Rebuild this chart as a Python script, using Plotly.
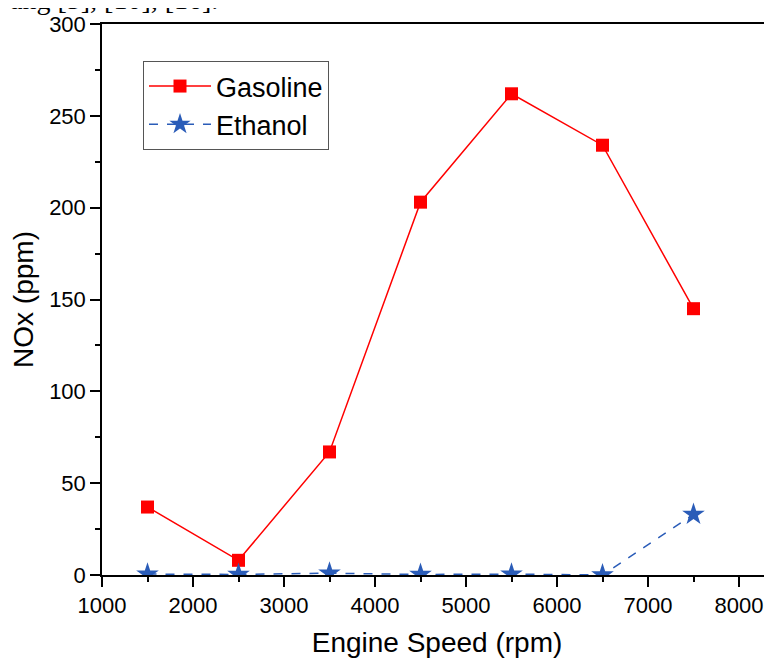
import plotly.graph_objects as go

speed = [1500, 2500, 3500, 4500, 5500, 6500, 7500]
gasoline = [37, 8, 67, 203, 262, 234, 145]
ethanol = [0.5, 0.3, 1, 0.3, 0.5, 0, 33]

x_ticks = [1000, 2000, 3000, 4000, 5000, 6000, 7000, 8000]
y_ticks = [0, 50, 100, 150, 200, 250, 300]

# page body has an 8px margin; size the figure so the plot area lands where the reference has it
W, H = 764, 651
L, R, T, B = 94, 0, 16, 84
PW, PH = W - L - R, H - T - B

fig = go.Figure()
fig.add_trace(go.Scatter(
    x=speed, y=gasoline, name="Gasoline", mode="lines+markers",
    line=dict(color="#FF0000", width=1.5),
    marker=dict(symbol="square", size=13, color="#FF0000"),
))
fig.add_trace(go.Scatter(
    x=speed, y=ethanol, name="Ethanol", mode="lines+markers",
    line=dict(color="#2A5CB8", width=1.5, dash="dash"),
    marker=dict(symbol="star", size=17, color="#2A5CB8"),
))

font_family = "Liberation Sans, Arial, sans-serif"
fig.update_layout(
    width=W, height=H,
    margin=dict(l=L, r=R, t=T, b=B),
    paper_bgcolor="white", plot_bgcolor="white",
    font=dict(family=font_family, color="black"),
    showlegend=True,
    legend=dict(
        x=(143 - 102) / PW, y=(575 - 61) / PH, xanchor="left", yanchor="top",
        bordercolor="#555555", borderwidth=1,
        font=dict(size=27, family=font_family, color="black"),
        bgcolor="white", tracegroupgap=0, itemwidth=62,
    ),
    xaxis=dict(
        range=[1000, 1000 + PW / 91.0 * 1000],
        tickvals=x_ticks, ticktext=[str(v) for v in x_ticks],
        ticks="outside", ticklen=10, tickwidth=1.5, tickcolor="black",
        minor=dict(dtick=500, tick0=1000, ticks="outside", ticklen=5, tickwidth=1.5, tickcolor="black"),
        showline=True, linecolor="black", linewidth=1.5, mirror=True,
        showgrid=False, zeroline=False,
        tickfont=dict(size=22, family=font_family, color="black"),
        title=dict(text="Engine Speed (rpm)", font=dict(size=28, family=font_family, color="black"), standoff=15),
    ),
    yaxis=dict(
        range=[0, 300],
        tickvals=y_ticks, ticktext=[str(v) for v in y_ticks],
        ticks="outside", ticklen=10, tickwidth=1.5, tickcolor="black",
        minor=dict(dtick=25, tick0=0, ticks="outside", ticklen=5, tickwidth=1.5, tickcolor="black"),
        showline=True, linecolor="black", linewidth=1.5, mirror=False,
        showgrid=False, zeroline=False,
        tickfont=dict(size=22, family=font_family, color="black"),
        title=dict(text="NOx (ppm)", font=dict(size=28, family=font_family, color="black"), standoff=8),
    ),
    annotations=[dict(
        text="ang [5], [10], [16].", xref="paper", yref="paper",
        x=-L / PW, y=1 + 7.5 / PH, xanchor="left", yanchor="bottom",
        showarrow=False,
        font=dict(size=28, family="Liberation Serif, Times New Roman, serif", color="black"),
    )],
)

fig.write_html("out.html")
